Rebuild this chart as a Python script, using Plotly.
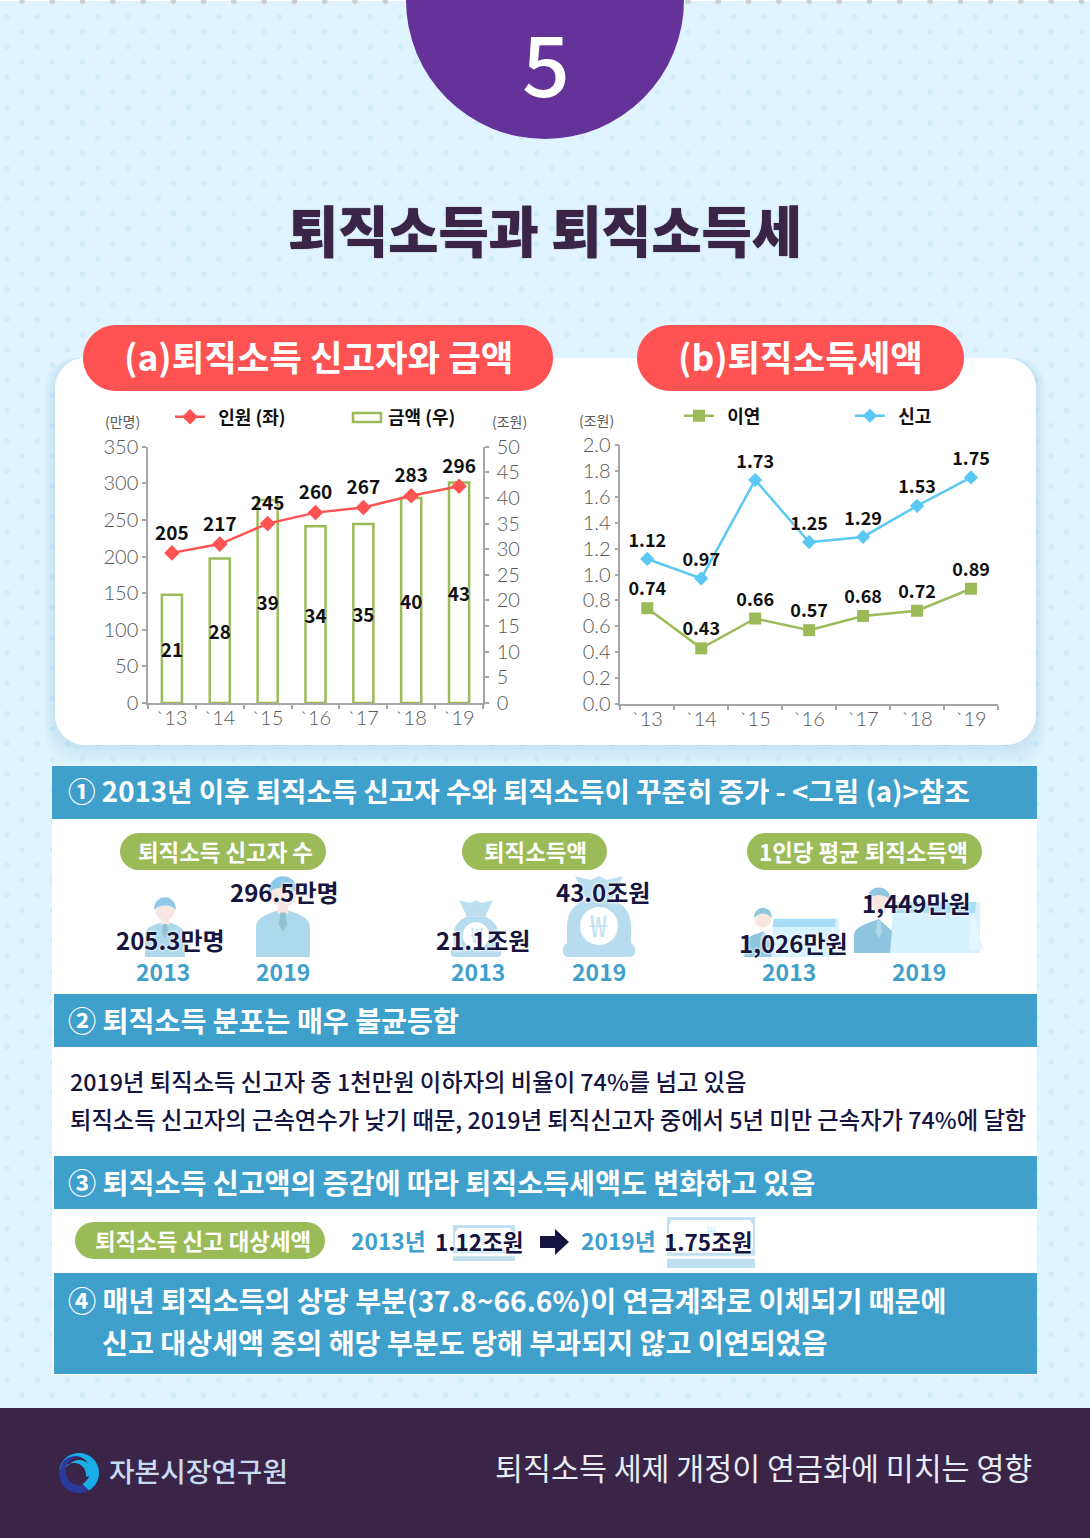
import math
import plotly.graph_objects as go

W = 1090
H = 1538
FONT = "Noto Sans CJK KR"

# colours
BG = "#E0F4FF"
DOT = "#D0EDFD"
PURPLE = "#65329A"
DARK = "#3A2549"
RED = "#FF5353"
BLUE = "#3FA0CC"
GREEN = "#9BBB59"
NAVY = "#15153F"
AXIS = "#A6A6A6"
TICK = "#595959"
SKY = "#5BC8F5"
ICON = "#AED8EB"

# chart data
years = ["`13", "`14", "`15", "`16", "`17", "`18", "`19"]
people = [205, 217, 245, 260, 267, 283, 296]
amount = [21.1, 28.2, 39.6, 34.5, 34.9, 40.0, 43.0]
amount_labels = ["21", "28", "39", "34", "35", "40", "43"]
deferred = [0.74, 0.43, 0.66, 0.57, 0.68, 0.72, 0.89]
reported = [1.12, 0.97, 1.73, 1.25, 1.29, 1.53, 1.75]

shapes = []
notes = []


def fx(x):
    return x / W


def fy(y):
    return 1 - y / H


def pxpath(s, ox=0, oy=0, k=1):
    # path written in page pixels, turned into paper fractions
    out = []
    is_x = True
    for tok in s.split():
        if tok.isalpha():
            out.append(tok)
            is_x = True
        elif is_x:
            out.append(f"{fx(ox + float(tok) * k):.5f}")
            is_x = False
        else:
            out.append(f"{fy(oy + float(tok) * k):.5f}")
            is_x = True
    return " ".join(out)


def add_path(s, color, ox=0, oy=0, k=1, opacity=1):
    shapes.append(dict(type="path", xref="paper", yref="paper", layer="below",
                       path=pxpath(s, ox, oy, k), fillcolor=color, opacity=opacity,
                       line=dict(width=0)))


def add_rect(x0, y0, x1, y1, color):
    shapes.append(dict(type="rect", xref="paper", yref="paper", layer="below",
                       x0=fx(x0), x1=fx(x1), y0=fy(y1), y1=fy(y0),
                       fillcolor=color, line=dict(width=0)))


def add_circle(cx, cy, r, color):
    shapes.append(dict(type="circle", xref="paper", yref="paper", layer="below",
                       x0=fx(cx - r), x1=fx(cx + r), y0=fy(cy + r), y1=fy(cy - r),
                       fillcolor=color, line=dict(width=0)))


def add_pill(x0, y0, x1, y1, r, color, opacity=1):
    c = r * 0.45
    s = (f"M {x0 + r} {y0} L {x1 - r} {y0} C {x1 - c} {y0} {x1} {y0 + c} {x1} {y0 + r} "
         f"L {x1} {y1 - r} C {x1} {y1 - c} {x1 - c} {y1} {x1 - r} {y1} "
         f"L {x0 + r} {y1} C {x0 + c} {y1} {x0} {y1 - c} {x0} {y1 - r} "
         f"L {x0} {y0 + r} C {x0} {y0 + c} {x0 + c} {y0} {x0 + r} {y0} Z")
    add_path(s, color, opacity=opacity)


def add_text(x, y, s, size, color, weight=700, anchor="center", halo=False, shadow=None):
    font = dict(family=FONT, size=size, color=color, weight=weight)
    if halo:
        font["shadow"] = "0 0 3px white, 0 0 3px white"
    if shadow:
        font["shadow"] = shadow
    # the CJK face sits a little low in its line box
    notes.append(dict(x=fx(x), y=fy(y - size * 0.06), xref="paper", yref="paper", text=s,
                      showarrow=False, xanchor=anchor, yanchor="middle", font=font, borderpad=0))


def add_dots(color, rows):
    parts = []
    for k in rows:
        y = 1.5 + 15.15 * k
        x = 22 if k % 2 == 0 else 7
        while x < W:
            r = 3
            d = r * 0.7
            parts.append(f"M {x - r} {y} L {x - d} {y - d} L {x} {y - r} L {x + d} {y - d} "
                         f"L {x + r} {y} L {x + d} {y + d} L {x} {y + r} L {x - d} {y + d} Z")
            x += 30.27
    add_path(" ".join(parts), color)


def person(cx, bottom, k):
    add_path("M -20 0 L -20 -22 C -20 -31 -7 -33 0 -36 C 7 -33 20 -31 20 -22 L 20 0 Z", ICON, cx, bottom, k)
    add_rect(cx - 4 * k, bottom - 41 * k, cx + 4 * k, bottom - 32 * k, "#F8E6E2")
    add_circle(cx, bottom - 47 * k, 10 * k, "#F8E6E2")
    add_path("M -11 -47 C -11 -64 11 -64 11 -47 C 6 -53 -6 -53 -11 -47 Z", "#8FC9E8", cx, bottom, k)
    add_path("M -2 -33 L 2 -33 L 3 -24 L 0 -19 L -3 -24 Z", "#8FC3D2", cx, bottom, k)


def bag(cx, bottom, k):
    add_path("M -13 -58 L -24 -81 L -8 -77 L 0 -81 L 8 -77 L 24 -81 L 13 -58 Z", "#BCDFF0", cx, bottom, k)
    add_path("M -13 -58 C -26 -52 -32 -44 -32 -30 L -32 -14 C -38 -10 -38 0 -30 0 L 30 0 "
             "C 38 0 38 -10 32 -14 L 32 -30 C 32 -44 26 -52 13 -58 Z", "#B8DCEF", cx, bottom, k)
    add_circle(cx, bottom - 31 * k, 19 * k, "white")
    add_text(cx, bottom - 31 * k, "₩", int(30 * k), "#BFE3F3", weight=400)


def worker(cx, bottom, k):
    add_path("M 11 0 L 14 -51 L 101 -51 L 101 0 Z", "#D6F2FF", cx, bottom, k)
    add_path("M 92 -50 L 104 -4 L 90 -3 Z", "#E4F6FF", cx, bottom, k)
    add_path("M 14 -51 L 97 -51 L 96 -40 L 13 -40 Z", "#A9DCF7", cx, bottom, k)
    add_path("M -25 0 L -25 -17 C -25 -27 -10 -30 0 -34 L 13 -22 L 11 0 Z", "#8FC6DF", cx, bottom, k)
    add_path("M -2 -32 L 2 -32 L 3 -20 L 0 -15 L -3 -20 Z", ICON, cx, bottom, k)
    add_circle(cx, bottom - 50 * k, 11 * k, "#F8E6E2")
    add_path("M -12 -52 C -12 -70 12 -70 12 -52 C 6 -60 -6 -60 -12 -52 Z", "#8FC6DF", cx, bottom, k)


def banknote(x0, y0, x1, y1):
    add_rect(x0, y0, x1, y1, "#BFE1EF")
    c = 5
    b = y1 - (y1 - y0) * 0.3
    add_path(f"M {x0 + c} {y0 + 3} L {x1 - c} {y0 + 3} L {x1 - 2} {y0 + c + 3} L {x1 - 2} {b - c} "
             f"L {x1 - c} {b} L {x0 + c} {b} L {x0 + 2} {b - c} L {x0 + 2} {y0 + c + 3} Z", "white")
    add_rect(x0, b + 3, x1, b + 6, "white")
    add_text((x0 + x1) / 2, y0 + 14, "₩", 15, "#D5ECF5", weight=400)


def arc(cx, cy, r, a0, a1, n=24):
    pts = []
    for i in range(n + 1):
        a = math.radians(a0 + (a1 - a0) * i / n)
        pts.append((cx + r * math.cos(a), cy + r * math.sin(a)))
    return pts


def crescent(c1, r1, c2, r2, a0, a1, b0, b1, color):
    pts = arc(c1[0], c1[1], r1, a0, a1) + arc(c2[0], c2[1], r2, b0, b1)
    s = "M " + " L ".join(f"{x:.2f} {y:.2f}" for x, y in pts) + " Z"
    add_path(s, color)


# -----------------------------
# Page background
# -----------------------------
add_rect(0, 0, W, 1, "white")
add_dots("#CFCFCF", [0])
add_dots(DOT, range(1, 94))

add_circle(545, 0, 139, PURPLE)
add_text(546, 66, "5", 84, "white", weight=500)
add_text(545, 232, "퇴직소득과 퇴직소득세", 54.5, DARK, weight=900, shadow=f"0 0 1px {DARK}")

# chart card with soft shadow
for i in range(6):
    add_pill(55 - i * 2, 358, 1036 + i * 2, 746 + i * 3.5, 30, "#2C6E96", opacity=0.022)
add_pill(55, 358, 1036, 745, 30, "white")
add_pill(83, 325, 553, 391, 33, RED)
add_pill(637, 325, 964, 391, 33, RED)
add_text(318, 358, "(a)퇴직소득 신고자와 금액", 35.4, "white")
add_text(800, 358, "(b)퇴직소득세액", 35.4, "white")

# axis units
add_text(122, 422, "(만명)", 14, TICK, weight=400)
add_text(509, 422, "(조원)", 14, TICK, weight=400)
add_text(596, 421, "(조원)", 14, TICK, weight=400)

# amount key, a plain outlined box
shapes.append(dict(type="rect", xref="paper", yref="paper", layer="below",
                   x0=fx(353), x1=fx(381), y0=fy(422), y1=fy(413),
                   fillcolor="white", line=dict(color=GREEN, width=2.5)))
add_text(387, 417, "금액 (우)", 18, "#111111", anchor="left")

# -----------------------------
# Text panels
# -----------------------------
add_rect(52, 766, 1037, 1375, "white")
add_rect(52, 766, 1037, 819, BLUE)
add_rect(54, 994, 1037, 1047, BLUE)
add_rect(54, 1156, 1037, 1209, BLUE)
add_rect(54, 1273, 1037, 1374, BLUE)

add_text(67, 792, "① 2013년 이후 퇴직소득 신고자 수와 퇴직소득이 꾸준히 증가 - &lt;그림 (a)&gt;참조", 27.6, "white", anchor="left")
add_text(67, 1021, "② 퇴직소득 분포는 매우 불균등함", 28.2, "white", anchor="left")
add_text(67, 1183, "③ 퇴직소득 신고액의 증감에 따라 퇴직소득세액도 변화하고 있음", 28.2, "white", anchor="left")
add_text(67, 1301, "④ 매년 퇴직소득의 상당 부분(37.8~66.6%)이 연금계좌로 이체되기 때문에", 28.2, "white", anchor="left")
add_text(101, 1343, "신고 대상세액 중의 해당 부분도 당해 부과되지 않고 이연되었음", 28.2, "white", anchor="left")

add_text(68.5, 1082, "2019년 퇴직소득 신고자 중 1천만원 이하자의 비율이 74%를 넘고 있음", 23.3, NAVY, weight=500, anchor="left")
add_text(68.5, 1120, "퇴직소득 신고자의 근속연수가 낮기 때문, 2019년 퇴직신고자 중에서 5년 미만 근속자가 74%에 달함", 23.3, NAVY, weight=500, anchor="left")

add_pill(120, 833, 326, 870, 18.5, GREEN)
add_pill(462, 833, 607, 870, 18.5, GREEN)
add_pill(747, 833, 982, 870, 18.5, GREEN)
add_pill(75, 1222, 325, 1259, 18.5, GREEN)
add_text(225, 852, "퇴직소득 신고자 수", 22.4, "white")
add_text(535, 852, "퇴직소득액", 22.4, "white")
add_text(863, 852, "1인당 평균 퇴직소득액", 22.4, "white")
add_text(203, 1241, "퇴직소득 신고 대상세액", 22.4, "white")

person(165, 957, 1.0)
person(283, 957, 1.35)
bag(476, 957, 0.7)
bag(599, 957, 1.0)
worker(763, 957, 0.75)
worker(879, 953, 1.0)

add_text(170, 941, "205.3만명", 24, NAVY, halo=True)
add_text(284, 893, "296.5만명", 24, NAVY, halo=True)
add_text(483, 941, "21.1조원", 24, NAVY, halo=True)
add_text(603, 893, "43.0조원", 24, NAVY, halo=True)
add_text(793, 944, "1,026만원", 24, NAVY, halo=True)
add_text(916, 904, "1,449만원", 24, NAVY, halo=True)
for x, s in [(162.5, "2013"), (283, "2019"), (478, "2013"), (599, "2019"), (789, "2013"), (919, "2019")]:
    add_text(x, 972, s, 23, BLUE)

banknote(453, 1225, 515, 1261)
banknote(667, 1217, 755, 1268)
add_text(350, 1242, "2013년", 22.8, BLUE, anchor="left")
add_text(434, 1242, "1.12조원", 22.5, NAVY, anchor="left", halo=True)
add_path("M 540 1236 L 555 1236 L 555 1229 L 569 1242 L 555 1255 L 555 1248 L 540 1248 Z", NAVY)
add_text(580, 1242, "2019년", 22.8, BLUE, anchor="left")
add_text(663, 1242, "1.75조원", 22.5, NAVY, anchor="left", halo=True)

# -----------------------------
# Footer
# -----------------------------
add_rect(0, 1408, W, H, DARK)
add_circle(79, 1473, 20, "#2B3A9C")
add_circle(80, 1471, 14.5, DARK)
crescent((79, 1473), 20, (75, 1471), 15, 190, 420, 420, 190, "#19ADE6")
crescent((79, 1473), 13, (74, 1475), 12, 220, 370, 370, 220, "#19ADE6")
add_text(108, 1472, "자본시장연구원", 27.8, "#C9DAF0", weight=500, anchor="left")
add_text(1033, 1469, "퇴직소득 세제 개정이 연금화에 미치는 영향", 30.4, "#E8ECF4", weight=400, anchor="right")

# -----------------------------
# Charts
# -----------------------------
label_font = dict(family=FONT, size=19, color="#111111", weight=700, shadow="0 0 2px white")
label_font_b = dict(label_font, size=18)

fig = go.Figure()
fig.add_trace(go.Bar(
    x=years, y=amount, yaxis="y", xaxis="x",
    text=amount_labels, textposition="inside", insidetextanchor="middle", textangle=0,
    constraintext="none", textfont=label_font, cliponaxis=False,
    width=0.42, marker=dict(color="white", line=dict(color=GREEN, width=2.5)),
    name="금액 (우)", showlegend=False,
))
fig.add_trace(go.Scatter(
    x=years, y=people, yaxis="y2", xaxis="x",
    mode="lines+markers+text", text=[str(v) for v in people], textposition="top center",
    textfont=label_font, cliponaxis=False,
    line=dict(color=RED, width=2.5), marker=dict(symbol="diamond", size=12, color=RED),
    name="\u00a0\u00a0인원 (좌)", legend="legend",
))
fig.add_trace(go.Scatter(
    x=years, y=deferred, yaxis="y3", xaxis="x2",
    mode="lines+markers+text", text=[f"{v:.2f}" for v in deferred], textposition="top center",
    textfont=label_font_b, cliponaxis=False,
    line=dict(color=GREEN, width=2.5), marker=dict(symbol="square", size=12, color=GREEN),
    name="\u00a0\u00a0이연", legend="legend2",
))
fig.add_trace(go.Scatter(
    x=years, y=reported, yaxis="y3", xaxis="x2",
    mode="lines+markers+text", text=[f"{v:.2f}" for v in reported], textposition="top center",
    textfont=label_font_b, cliponaxis=False,
    line=dict(color=SKY, width=2.5), marker=dict(symbol="diamond", size=11, color=SKY),
    name="\u00a0\u00a0신고", legend="legend2",
))

tick_font = dict(family="Lato", size=20, color=TICK, weight=300)
axis_style = dict(showgrid=False, zeroline=False, showline=True, linecolor=AXIS, linewidth=1.5,
                  ticks="outside", ticklen=4, tickcolor=AXIS, tickwidth=1.5, tickfont=tick_font)
legend_font = dict(family=FONT, size=18, color="#111111", weight=700)

fig.update_layout(
    width=W, height=H, autosize=False,
    margin=dict(l=0, r=0, t=0, b=0, autoexpand=False),
    paper_bgcolor=BG, plot_bgcolor="rgba(0,0,0,0)",
    font=dict(family=FONT),
    bargap=0.58,
    xaxis=dict(domain=[fx(148), fx(483)], anchor="y", type="category", tickson="boundaries",
               range=[-0.5, 6.5], ticklabelstandoff=-4, **axis_style),
    yaxis=dict(domain=[fy(703), fy(446.7)], anchor="x", side="right", range=[0, 50], dtick=5,
               ticklabelstandoff=4, **axis_style),
    yaxis2=dict(overlaying="y", anchor="x", side="left", range=[0, 350], dtick=50, **axis_style),
    xaxis2=dict(domain=[fx(620.3), fx(998)], anchor="y3", type="category", tickson="boundaries",
                range=[-0.5, 6.5], ticklabelstandoff=-4, **axis_style),
    yaxis3=dict(domain=[fy(704), fy(445)], anchor="x2", range=[0, 2], dtick=0.2, tickformat=".1f", **axis_style),
    legend=dict(x=fx(170), y=fy(417), xanchor="left", yanchor="middle", orientation="h",
                bgcolor="rgba(0,0,0,0)", font=legend_font, itemclick=False, itemdoubleclick=False),
    legend2=dict(x=fx(679), y=fy(416), xanchor="left", yanchor="middle", orientation="h",
                 entrywidth=126, entrywidthmode="pixels",
                 bgcolor="rgba(0,0,0,0)", font=legend_font, itemclick=False, itemdoubleclick=False),
    shapes=shapes,
    annotations=notes,
)

fig.write_html("out.html", config={"displayModeBar": False},
               post_script="document.body.style.margin='0';")
